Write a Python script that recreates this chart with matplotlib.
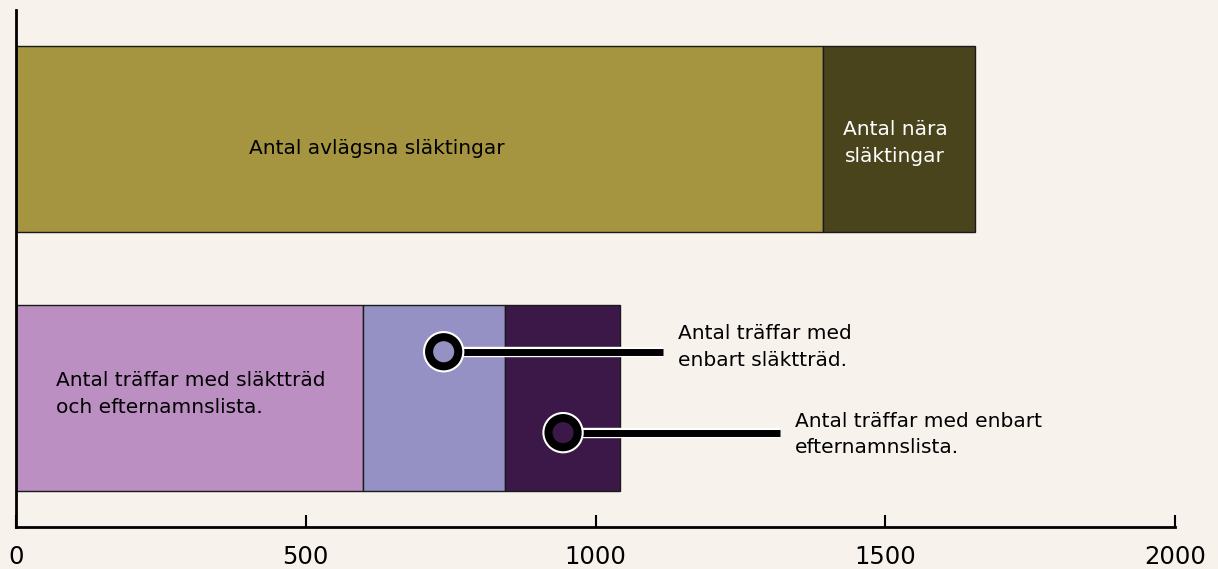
import numpy as np
import matplotlib.pyplot as plt
import matplotlib.patheffects as pe

# data
top_values = [1393, 262]          # avlägsna, nära släktingar
top_colors = ['#a69540', '#4a441d']
bottom_values = [598, 245, 200]   # båda, enbart släktträd, enbart efternamnslista
bottom_colors = ['#bb8fc2', '#9591c4', '#3c1848']
xticks = [0, 500, 1000, 1500, 2000]

BG = '#f7f2ec'

def plot_chart():
    fig = plt.figure(figsize=(12.18, 5.69), dpi=100, facecolor=BG)
    ax = fig.add_axes([16 / 1218, 42 / 569, 1159 / 1218, 517 / 569])
    ax.set_facecolor(BG)

    # stacked bars
    left = 0
    for v, c in zip(top_values, top_colors):
        ax.barh(1, v, left=left, height=0.72, color=c, edgecolor='#1a1a1a', linewidth=1)
        left += v
    left = 0
    for v, c in zip(bottom_values, bottom_colors):
        ax.barh(0, v, left=left, height=0.72, color=c, edgecolor='#1a1a1a', linewidth=1)
        left += v

    font = 'DejaVu Sans'
    fs = 14.5
    ls = 1.5
    ax.text(623, 0.965, 'Antal avlägsna släktingar', ha='center', va='center',
            fontsize=fs, color='black', family=font)
    ax.text(1517, 0.985, 'Antal nära\nsläktingar', ha='center', va='center',
            fontsize=fs, color='white', family=font, linespacing=ls)
    ax.text(69, 0.015, 'Antal träffar med släktträd\noch efternamnslista.', ha='left',
            va='center', fontsize=fs, color='black', family=font, linespacing=ls)

    # callouts
    callouts = [
        (738, 0.178, 1116, bottom_colors[1], 'Antal träffar med\nenbart släktträd.', 1142, 0.197),
        (944, -0.135, 1318, bottom_colors[2], 'Antal träffar med enbart\nefternamnslista.', 1344, -0.143),
    ]
    for cx, cy, lx, fc, txt, tx, ty in callouts:
        ax.plot([cx, lx], [cy, cy], color='black', lw=5, solid_capstyle='butt',
                path_effects=[pe.Stroke(linewidth=7.5, foreground='white'), pe.Normal()])
        ax.plot([cx], [cy], marker='o', markersize=21, markerfacecolor=fc,
                markeredgecolor='black', markeredgewidth=5.8,
                path_effects=[pe.Stroke(linewidth=8.8, foreground='white'), pe.Normal()])
        ax.text(tx, ty, txt, ha='left', va='center', fontsize=fs, color='black',
                family=font, linespacing=ls)

    ax.set_xlim(0, 2000)
    ax.set_ylim(-0.5, 1.5)
    ax.set_yticks([])
    ax.set_xticks(xticks)
    ax.set_xticklabels([str(t) for t in xticks], fontsize=17.5, family='DejaVu Sans')
    ax.tick_params(axis='x', direction='in', length=8.5, width=1.5, pad=13, colors='black')
    for s in ['top', 'right']:
        ax.spines[s].set_visible(False)
    ax.spines['left'].set_linewidth(2)
    ax.spines['bottom'].set_linewidth(2)

    plt.savefig('out.png', dpi=100, facecolor=BG)

if __name__ == "__main__":
    plot_chart()
